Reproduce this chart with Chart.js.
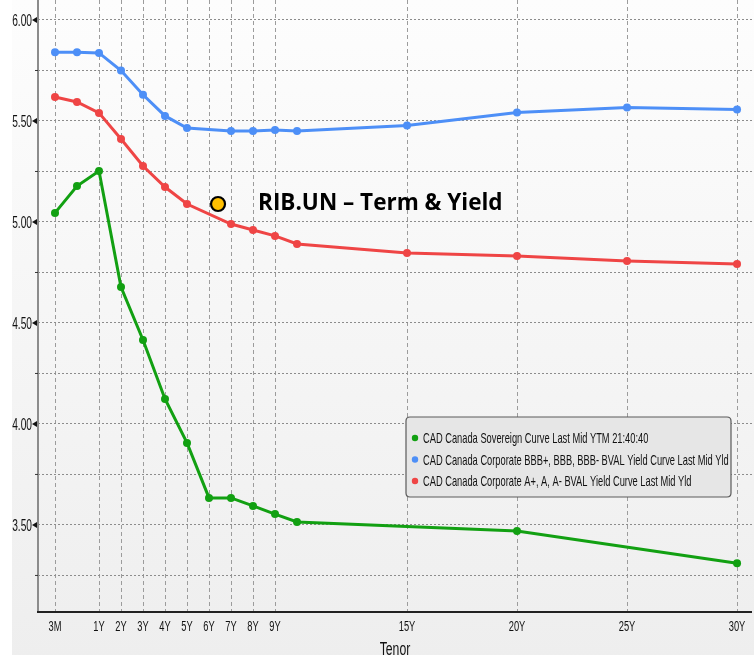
<!DOCTYPE html>
<html>
<head>
<meta charset="utf-8">
<script src="https://cdn.jsdelivr.net/npm/chart.js@4/dist/chart.umd.min.js"></script>
<style>
  html, body { margin: 0; padding: 0; background: #ffffff; }
  #wrap { width: 754px; height: 659px; }
</style>
</head>
<body>
<div id="wrap"><canvas id="c" width="754" height="659"></canvas></div>
<script>
// ---- data ----
const tenors   = ['3M','6M','1Y','2Y','3Y','4Y','5Y','6Y','7Y','8Y','9Y','10Y','15Y','20Y','25Y','30Y'];
const tenorPos = [-1, 0, 1, 2, 3, 4, 5, 6, 7, 8, 9, 10, 15, 20, 25, 30]; // axis value of each tenor
const sovereign = [5.045, 5.178, 5.252, 4.678, 4.416, 4.124, 3.906, 3.634, 3.634, 3.594, 3.554, 3.515, null, 3.470, null, 3.310];
const corpBBB   = [5.840, 5.840, 5.837, 5.750, 5.630, 5.525, 5.465, null, 5.450, 5.450, 5.455, 5.450, 5.478, 5.542, 5.567, 5.557];
const corpA     = [5.619, 5.594, 5.540, 5.411, 5.277, 5.173, 5.089, null, 4.990, 4.960, 4.931, 4.891, 4.847, 4.832, 4.807, 4.792];
const seriesNames = [
  'CAD Canada Sovereign Curve Last Mid YTM 21:40:40',
  'CAD Canada Corporate BBB+, BBB, BBB- BVAL Yield Curve Last Mid Yld',
  'CAD Canada Corporate A+, A, A- BVAL Yield Curve Last Mid Yld'
];
const ribTerm  = [6.41];
const ribYield = [5.089];
const ribLabel = 'RIB.UN \u2013 Term & Yield';
const xTickValues = [-1, 1, 2, 3, 4, 5, 6, 7, 8, 9, 15, 20, 25, 30];
const xTickLabels = ['3M','1Y','2Y','3Y','4Y','5Y','6Y','7Y','8Y','9Y','15Y','20Y','25Y','30Y'];
const yTickValues = [3.25, 3.50, 3.75, 4.00, 4.25, 4.50, 4.75, 5.00, 5.25, 5.50, 5.75, 6.00];
const xTitle = 'Tenor';

const SANS = "'Liberation Sans', 'DejaVu Sans', sans-serif";

function toPoints(vals) {
  const out = [];
  vals.forEach((v, i) => { if (v !== null) out.push({ x: tenorPos[i], y: v }); });
  return out;
}
function isHalf(v) { return Math.abs(v * 2 - Math.round(v * 2)) < 1e-6; }

// condensed text: draw text squeezed horizontally
function narrowText(ctx, text, x, y, squeeze, align) {
  const w = ctx.measureText(text).width;
  const nw = w * squeeze;
  let left = x;
  if (align === 'center') left = x - nw / 2;
  else if (align === 'right') left = x - nw;
  ctx.textAlign = 'left';
  ctx.fillText(text, left, y, nw);
}

const colors = ['#12a012', '#4d8ff7', '#ef4545'];

const bgPlugin = {
  id: 'bg',
  beforeDraw(chart) {
    const ctx = chart.ctx;
    const g = ctx.createLinearGradient(0, 0, 0, chart.height);
    g.addColorStop(0, '#fdfdfd');
    g.addColorStop(1, '#eeeeee');
    ctx.save();
    ctx.fillStyle = '#ffffff';
    ctx.fillRect(0, 0, chart.width, chart.height);
    ctx.fillStyle = g;
    ctx.fillRect(12, 0, chart.width - 12, 655);
    ctx.restore();
  }
};

const axesPlugin = {
  id: 'axesDeco',
  beforeDatasetsDraw(chart) {
    const ctx = chart.ctx, a = chart.chartArea, ys = chart.scales.y;
    ctx.save();
    ctx.strokeStyle = '#8c8c8c';
    ctx.lineWidth = 2;
    ctx.beginPath(); ctx.moveTo(a.left, a.top); ctx.lineTo(a.left, a.bottom); ctx.stroke();
    ctx.strokeStyle = '#222222';
    ctx.beginPath(); ctx.moveTo(a.left - 1, a.bottom); ctx.lineTo(a.right, a.bottom); ctx.stroke();
    ctx.fillStyle = '#111111';
    yTickValues.forEach(v => {
      const py = ys.getPixelForValue(v);
      if (isHalf(v)) {
        ctx.beginPath();
        ctx.moveTo(a.left - 6, py);
        ctx.lineTo(a.left - 1, py - 3);
        ctx.lineTo(a.left - 1, py + 3);
        ctx.closePath(); ctx.fill();
      } else {
        ctx.strokeStyle = '#333';
        ctx.lineWidth = 1;
        ctx.beginPath(); ctx.moveTo(a.left - 3, py); ctx.lineTo(a.left, py); ctx.stroke();
      }
    });
    ctx.restore();
  },
  afterDraw(chart) {
    const ctx = chart.ctx, a = chart.chartArea, xs = chart.scales.x, ys = chart.scales.y;
    ctx.save();
    ctx.fillStyle = '#111111';
    ctx.textBaseline = 'middle';
    ctx.font = "17px " + SANS;
    yTickValues.forEach(v => {
      if (isHalf(v)) narrowText(ctx, v.toFixed(2), a.left - 6, ys.getPixelForValue(v) + 1, 0.6, 'right');
    });
    ctx.font = "15px " + SANS;
    xTickValues.forEach((v, i) => {
      narrowText(ctx, xTickLabels[i], xs.getPixelForValue(v), a.bottom + 15, 0.62, 'center');
    });
    ctx.font = "18px " + SANS;
    narrowText(ctx, xTitle, (a.left + a.right) / 2, a.bottom + 38, 0.68, 'center');

    const pt = chart.getDatasetMeta(3).data[0];
    ctx.fillStyle = '#000000';
    ctx.font = "bold 22.5px 'Open Sans', 'Liberation Sans', sans-serif";
    ctx.textBaseline = 'middle';
    ctx.textAlign = 'left';
    ctx.fillText(ribLabel, pt.x + 40, pt.y);

    const bx = 406, by = 417, bw = 325, bh = 80, r = 4;
    ctx.beginPath();
    ctx.moveTo(bx + r, by);
    ctx.lineTo(bx + bw - r, by); ctx.quadraticCurveTo(bx + bw, by, bx + bw, by + r);
    ctx.lineTo(bx + bw, by + bh - r); ctx.quadraticCurveTo(bx + bw, by + bh, bx + bw - r, by + bh);
    ctx.lineTo(bx + r, by + bh); ctx.quadraticCurveTo(bx, by + bh, bx, by + bh - r);
    ctx.lineTo(bx, by + r); ctx.quadraticCurveTo(bx, by, bx + r, by);
    ctx.closePath();
    ctx.fillStyle = '#e6e6e6';
    ctx.fill();
    ctx.strokeStyle = '#5a5a5a';
    ctx.lineWidth = 1.2;
    ctx.stroke();
    ctx.font = "15px " + SANS;
    ctx.textBaseline = 'middle';
    for (let i = 0; i < 3; i++) {
      const yy = by + 21 + i * 21.5;
      ctx.fillStyle = colors[i];
      ctx.beginPath(); ctx.arc(bx + 9, yy, 3.2, 0, Math.PI * 2); ctx.fill();
      ctx.fillStyle = '#111111';
      narrowText(ctx, chart.data.datasets[i].label, bx + 17, yy + 1, 0.62, 'left');
    }
    ctx.restore();
  }
};

const lineDs = (label, vals, color) => ({
  label,
  data: toPoints(vals),
  borderColor: color,
  backgroundColor: color,
  borderWidth: 3,
  pointRadius: 4,
  pointHoverRadius: 4,
  pointBorderWidth: 0,
  tension: 0,
  fill: false
});

new Chart(document.getElementById('c'), {
  type: 'line',
  data: {
    datasets: [
      lineDs(seriesNames[0], sovereign, colors[0]),
      lineDs(seriesNames[1], corpBBB, colors[1]),
      lineDs(seriesNames[2], corpA, colors[2]),
      {
        label: ribLabel,
        data: ribTerm.map((t, i) => ({ x: t, y: ribYield[i] })),
        showLine: false,
        pointRadius: 7,
        pointBackgroundColor: '#ffbf00',
        pointBorderColor: '#000000',
        pointBorderWidth: 2.2
      }
    ]
  },
  options: {
    responsive: false,
    animation: false,
    devicePixelRatio: 1,
    layout: { autoPadding: false, padding: { top: 0, right: 2, left: 0, bottom: 0 } },
    plugins: { legend: { display: false }, tooltip: { enabled: false } },
    scales: {
      x: {
        type: 'linear',
        min: -1.773,
        max: 30.68,
        afterBuildTicks(scale) { scale.ticks = xTickValues.map(v => ({ value: v })); },
        afterFit(scale) { scale.height = 47; scale.paddingLeft = 0; scale.paddingRight = 0; },
        ticks: { display: false, autoSkip: false, maxRotation: 0 },
        grid: { color: '#9c9c9c', lineWidth: 1, drawTicks: false },
        border: { display: false, dash: [4, 3] }
      },
      y: {
        type: 'linear',
        min: 3.069,
        max: 6.099,
        afterBuildTicks(scale) { scale.ticks = yTickValues.map(v => ({ value: v })); },
        afterFit(scale) { scale.width = 38; scale.paddingTop = 0; scale.paddingBottom = 0; },
        ticks: { display: false },
        grid: { color: '#8c8c8c', lineWidth: 1, drawTicks: false },
        border: { display: false, dash: [2, 2] }
      }
    }
  },
  plugins: [bgPlugin, axesPlugin]
});
</script>
</body>
</html>
